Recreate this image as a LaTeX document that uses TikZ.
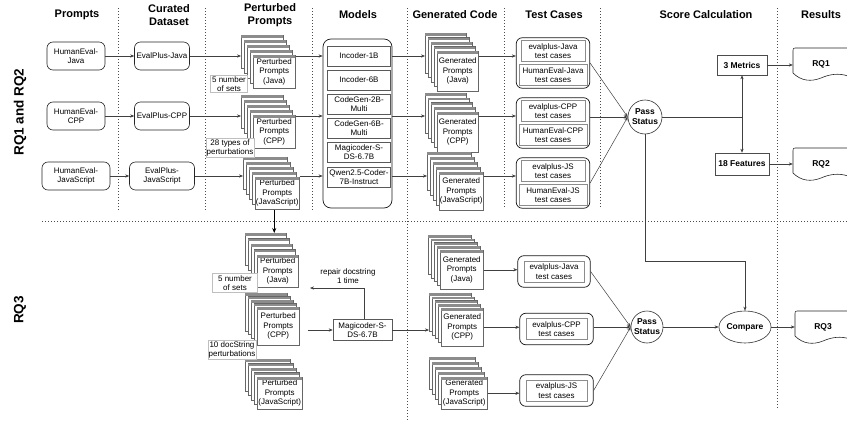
\documentclass[tikz,border=0pt]{standalone}
\usepackage{fontspec}
\setmainfont{Liberation Sans}
\usetikzlibrary{arrows.meta,fit,calc,shapes.geometric}
\newcommand\nf{\fontsize{8}{9.6}\selectfont}
\newcommand\bnf{\bfseries\fontsize{8.5}{10}\selectfont}
\newcommand\mydocshape[1]{%
  \draw[docline, shift={(#1)}] (27,-16) -- (-24,-16) .. controls (-28,-16) .. (-28,-12) -- (-28,9)
    .. controls (-20,17) and (-10,18) .. (0,14) .. controls (9,10) and (18,9) .. (27,12);}
\tikzset{
  stlayer/.style={fill=white, draw=black!60, line width=0.5pt},
  stband/.style={fill=black!45},
  frontbox/.style={fill=white, draw=black!60, line width=0.5pt, align=center, inner sep=0pt},
  pics/dstack/.style n args={4}{code={%
    \coordinate (-bw) at (0,0);
    \foreach \k in {0,1,2,3}{
      \filldraw[stlayer] (3*\k,#3*\k) rectangle ++(#1,#2);
      \fill[stband] (3*\k,#3*\k) rectangle ++(#1,2.5);
    }
    \node[frontbox, minimum width=#1, minimum height=#2, anchor=north west] (-f) at (12,4*#3) {#4};
    \fill[stband] (12,4*#3) rectangle ++(#1,2.5);
  }}
}
\begin{document}
\begin{tikzpicture}[x=1pt,y=-1pt,
  every node/.style={font=\nf, inner sep=1pt},
  hdr/.style={font=\bfseries\fontsize{11}{13}\selectfont, align=center},
  rbox/.style={draw=black!85, line width=0.6pt, rounded corners=6pt, align=center, minimum height=28},
  mbox/.style={draw=black!65, line width=0.5pt, align=center, minimum width=63, minimum height=20},
  tbox/.style={draw=black!45, line width=0.5pt, align=center, minimum height=21},
  grp/.style={draw=black!90, line width=0.7pt, rounded corners=6pt},
  lbl/.style={draw=black!25, fill=white, align=center, inner sep=0.8pt, line width=0.5pt},
  sbox/.style={draw=black!70, line width=0.5pt, font=\bnf, align=center},
  passc/.style={draw=black!80, circle, inner sep=0pt, font=\bnf, align=center, line width=0.6pt, fill=white},
  arr/.style={draw=black!75, line width=0.5pt, -{Stealth[length=4pt,width=3.2pt]}},
  ln/.style={draw=black!75, line width=0.5pt},
  dotsep/.style={draw=black!70, line width=0.6pt, dash pattern=on 0.7pt off 2.3pt},
  docline/.style={draw=black!85, line width=0.6pt},
]
\useasboundingbox (0,0) rectangle (847,423);

% separators
\draw[dotsep] (118,8) -- (118,211);
\draw[dotsep] (205,8) -- (205,211);
\draw[dotsep] (312,8) -- (312,211);
\draw[dotsep] (407,8) -- (407,420);
\draw[dotsep] (504,8) -- (504,208);
\draw[dotsep] (600,8) -- (600,208);
\draw[dotsep] (777,8) -- (777,408);
\draw[dotsep] (42,221) -- (847,221);

% headers
\node[hdr] (h1) at (77,15) {Prompts};
\node[hdr] (h2) at (169,15) {Curated\\Dataset};
\node[hdr] (h3) at (270,15) {Perturbed\\Prompts};
\node[hdr] (h4) at (358,15) {Models};
\node[hdr] (h5) at (455,15) {Generated Code};
\node[hdr] (h6) at (554,15) {Test Cases};
\node[hdr] (h7) at (706,15) {Score Calculation};
\node[hdr] (h8) at (821,15) {Results};
\node[rotate=90, font=\bfseries\fontsize{13.5}{16}\selectfont] (r12) at (20,112) {RQ1 and RQ2};
\node[rotate=90, font=\bfseries\fontsize{13.5}{16}\selectfont] (r3) at (20,310) {RQ3};

% prompts and datasets
\node[rbox, minimum width=58] (hj) at (76,56) {HumanEval-\\Java};
\node[rbox, minimum width=58] (hc) at (76,116) {HumanEval-\\CPP};
\node[rbox, minimum width=68] (hs) at (76,176) {HumanEval-\\JavaScript};
\node[rbox, minimum width=55] (ej) at (162,56) {EvalPlus-Java};
\node[rbox, minimum width=55] (ec) at (162,116) {EvalPlus-CPP};
\node[rbox, minimum width=65] (es) at (162,176) {EvalPlus-\\JavaScript};
\draw[arr] (hj) -- (ej);
\draw[arr] (hc) -- (ec);
\draw[arr] (hs) -- (es);

% perturbed prompts (top)
\pic (ptj) at (241,35) {dstack={42}{33}{5}{Perturbed\\Prompts\\(Java)}};
\pic (ptc) at (241,95) {dstack={42}{33}{5}{Perturbed\\Prompts\\(CPP)}};
\pic (pts) at (243,157) {dstack={44}{32}{5}{Perturbed\\Prompts\\(JavaScript)}};
\node[lbl, minimum width=37] (l1) at (229,84) {5 number\\of sets};
\node[lbl] (l2) at (230,148) {28 types of\\perturbations};
\draw[arr] (ej) -- (ej -| ptj-bw);
\draw[arr] (ec) -- (ec -| ptc-bw);
\draw[arr] (es) -- (es -| pts-bw);

% models
\node[grp, rounded corners=8pt, minimum width=69, minimum height=169] (mod) at (357.5,123.5) {};
\node[mbox] (m1) at (359,56) {Incoder-1B};
\node[mbox] (m2) at (359,80) {Incoder-6B};
\node[mbox] (m3) at (359,104) {CodeGen-2B-\\Multi};
\node[mbox] (m4) at (359,128) {CodeGen-6B-\\Multi};
\node[mbox] (m5) at (359,152) {Magicoder-S-\\DS-6.7B};
\node[mbox] (m6) at (359,177) {Qwen2.5-Coder-\\7B-Instruct};
\draw[arr] (ptj-f.east |- ej) -- (mod.west |- ej);
\draw[arr] (ptc-f.east |- ec) -- (mod.west |- ec);
\draw[arr] (pts-f.east |- es) -- (mod.west |- es);

% generated code (top)
\pic (gtj) at (425,33) {dstack={41}{40}{4.5}{Generated\\Prompts\\(Java)}};
\pic (gtc) at (425,93) {dstack={41}{40}{4.75}{Generated\\Prompts\\(CPP)}};
\pic (gts) at (427,152) {dstack={44}{38}{5}{Generated\\Prompts\\(JavaScript)}};
\draw[arr] (mod.east |- ej) -- (ej -| gtj-bw);
\draw[arr] (mod.east |- ec) -- (ec -| gtc-bw);
\draw[arr] (mod.east |- es) -- (es -| gts-bw);

% test cases (top)
\node[tbox, minimum width=64] (tj1) at (553,51) {evalplus-Java\\test cases};
\node[tbox, minimum width=68] (tj2) at (553,75) {HumanEval-Java\\test cases};
\node[grp, fit=(tj1)(tj2), inner sep=2.5pt] (tgj) {};
\node[tbox, minimum width=64] (tc1) at (553,111) {evalplus-CPP\\test cases};
\node[tbox, minimum width=68] (tc2) at (553,135) {HumanEval-CPP\\test cases};
\node[grp, fit=(tc1)(tc2), inner sep=2.5pt] (tgc) {};
\node[tbox, minimum width=64] (ts1) at (553,171) {evalplus-JS\\test cases};
\node[tbox, minimum width=68] (ts2) at (553,195) {HumanEval-JS\\test cases};
\node[grp, fit=(ts1)(ts2), inner sep=2.5pt] (tgs) {};
\draw[arr] (gtj-f.east |- ej) -- (tgj.west |- ej);
\draw[arr] (gtc-f.east |- ec) -- (tgc.west |- ec);
\draw[arr] (gts-f.east |- es) -- (tgs.west |- es);

% score calculation (top)
\node[passc, minimum size=34] (pass) at (645,117) {Pass\\Status};
\draw[arr] (tgj.east) -- (pass.west);
\draw[arr] (tgc.east |- pass) -- (pass.west);
\draw[arr] (tgs.east) -- (pass.west);
\node[sbox, minimum width=50, minimum height=20] (met) at (742,65) {3 Metrics};
\node[sbox, minimum width=54, minimum height=22] (fea) at (742,164) {18 Features};
\draw[ln] (pass) -- (pass -| met) coordinate (jn);
\draw[arr] (jn) -- (met);
\draw[arr] (jn) -- (fea);

% results
\node[font=\bnf, minimum width=56, minimum height=30] (rq1) at (821,64) {RQ1};
\node[font=\bnf, minimum width=56, minimum height=30] (rq2) at (821,164) {RQ2};
\node[font=\bnf, minimum width=56, minimum height=30] (rq3) at (823,327) {RQ3};
\mydocshape{rq1}
\mydocshape{rq2}
\mydocshape{rq3}
\draw[arr] (met) -- (met -| rq1.west);
\draw[arr] (fea) -- (fea -| rq2.west);

% RQ3 part
\pic (pbj) at (245,233) {dstack={41}{32}{5.5}{Perturbed\\Prompts\\(Java)}};
\pic (pbc) at (245,293) {dstack={42}{38}{3.5}{Perturbed\\Prompts\\(CPP)}};
\pic (pbs) at (245,359) {dstack={45}{32}{4.5}{Perturbed\\Prompts\\(JavaScript)}};
\draw[draw=black, line width=0.8pt, -{Stealth[length=5pt,width=4pt]}] ([xshift=-3]pts-f.south) -- ([xshift=-3]pts-f.south |- pbj-bw);
\node[lbl, minimum width=45, minimum height=19] (l3) at (235,283) {5 number\\of sets};
\node[lbl, minimum width=48] (l4) at (232,350) {10 docString\\perturbations};

\node[mbox, minimum width=59, minimum height=21] (mag) at (362.5,330) {Magicoder-S-\\DS-6.7B};
\draw[arr] ([xshift=8]pbc-f.east |- mag) -- (mag);
\coordinate (rep) at (310,288);
\draw[arr] ([xshift=2]mag.north) |- (rep);
\node[align=center] (reptxt) at (348,276) {repair docstring\\1 time};

\pic (gbj) at (428,235) {dstack={43}{39}{3.75}{Generated\\Prompts\\(Java)}};
\pic (gbc) at (429,293) {dstack={42}{38}{3.75}{Generated\\Prompts\\(CPP)}};
\pic (gbs) at (429,357) {dstack={46}{32}{5}{Generated\\Prompts\\(JavaScript)}};
\draw[arr] (mag) -- (mag -| gbc-bw);

\node[tbox, minimum width=60] (bj) at (554,271.5) {evalplus-Java\\test cases};
\node[grp, fit=(bj), inner xsep=6pt, inner ysep=5pt] (bgj) {};
\node[tbox, minimum width=61] (bc) at (556.5,329) {evalplus-CPP\\test cases};
\node[grp, fit=(bc), inner xsep=6pt, inner ysep=5pt] (bgc) {};
\node[tbox, minimum width=61] (bs) at (556.5,390.5) {evalplus-JS\\test cases};
\node[grp, fit=(bs), inner xsep=6pt, inner ysep=5pt] (bgs) {};
\draw[arr] (gbj-f.east) -- (gbj-f.east -| bgj.west);
\draw[arr] (gbc-f.east) -- (gbc-f.east -| bgc.west);
\draw[arr] (gbs-f.east) -- (gbs-f.east -| bgs.west);

\node[passc, minimum size=32] (pass2) at (647,327) {Pass\\Status};
\draw[arr] (bgj.east) -- (pass2.west);
\draw[arr] (bgc.east |- pass2) -- (pass2.west);
\draw[arr] (bgs.east) -- (pass2.west);
\node[draw=black!80, ellipse, line width=0.6pt, font=\bnf, minimum width=46, minimum height=32, inner sep=0pt] (cmp) at (745,327) {Compare};
\coordinate (bend) at (745,261);
\draw[arr] (pass.south) |- (bend) -- (cmp.north);
\draw[arr] (pass2) -- (cmp);
\draw[arr] (cmp) -- (cmp -| rq3.west);
\end{tikzpicture}
\end{document}
